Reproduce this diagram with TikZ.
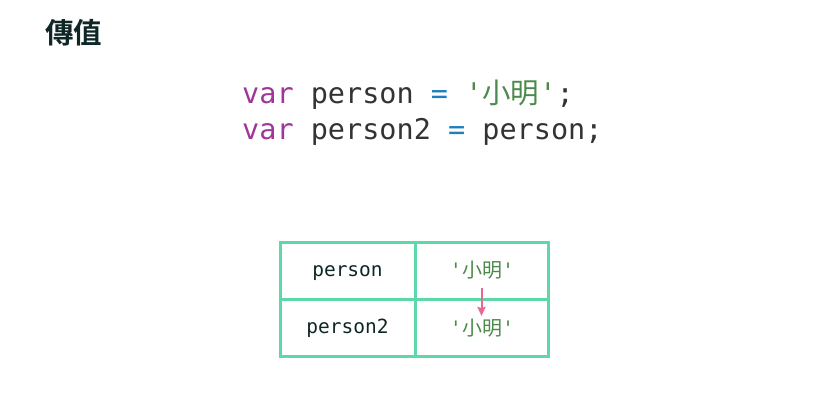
\documentclass[tikz,border=0pt]{standalone}
\usepackage{fontspec}
\setmonofont{DejaVu Sans Mono}
\newfontfamily\cjk{Noto Sans CJK TC}
\newfontfamily\cjkbold{Noto Sans CJK TC Bold}
\usetikzlibrary{arrows.meta}
\definecolor{kw}{HTML}{A0359A}
\definecolor{op}{HTML}{1E7FC0}
\definecolor{str}{HTML}{4C8A4C}
\definecolor{txt}{HTML}{333333}
\definecolor{grid}{HTML}{5DD8A8}
\definecolor{arr}{HTML}{E8698F}
\definecolor{ttl}{HTML}{0F2626}
\tikzset{
  codeline/.style={anchor=base west, inner sep=0pt, font=\ttfamily\fontsize{28.5}{34}\selectfont, text=txt},
  cell/.style={anchor=base, inner sep=0pt, font=\ttfamily\fontsize{19.5}{24}\selectfont, text=ttl},
  valcell/.style={anchor=base, inner sep=0pt, font=\ttfamily\fontsize{20}{24}\selectfont, text=str},
  gridline/.style={draw=grid, line width=3pt},
  flow/.style={draw=arr, line width=2pt, -{Stealth[length=9pt,width=8pt,inset=1pt]}}
}
\begin{document}
\begin{tikzpicture}[x=1pt,y=-1pt]
\useasboundingbox (0,0) rectangle (836,406);
\node[anchor=base west, inner sep=0pt, font=\cjkbold\fontsize{28.5}{32}\selectfont, text=ttl] (title) at (45,44) {傳值};
\node[codeline] (l1) at (242,104) {\textcolor{kw}{var} person \textcolor{op}{=} \textcolor{str}{'{\cjk 小明}'};};
\node[codeline] (l2) at (242,140) {\textcolor{kw}{var} person2 \textcolor{op}{=} person;};
% table
\draw[gridline] (280.5,242.5) rectangle (548.5,356.5);
\draw[gridline] (415,242.5) -- (415,356.5);
\draw[gridline] (280.5,299.5) -- (548.5,299.5);
\node[cell] (n1) at (347.5,277) {person};
\node[cell] (n2) at (347.5,334) {person2};
\node[valcell] (v1) at (482,278) {'{\cjk 小明}'};
\node[valcell] (v2) at (482,335) {'{\cjk 小明}'};
\coordinate (a1) at (481.5,288);
\coordinate (a2) at (481.5,316);
\draw[flow] (a1) -- (a2);
\end{tikzpicture}
\end{document}
